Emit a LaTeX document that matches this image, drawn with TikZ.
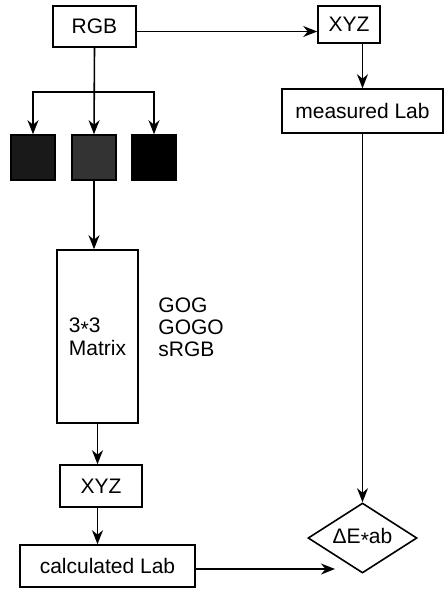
\documentclass[tikz,border=0pt]{standalone}
\usepackage{fontspec}
\setmainfont{Liberation Sans}
\usetikzlibrary{arrows.meta,shapes.geometric}

\newcommand{\starsym}{\raisebox{-0.35ex}{*}}

\begin{document}
\begin{tikzpicture}[x=0.5pt, y=-0.5pt, >={Stealth[length=7pt,width=5.5pt]}, line width=0.8pt,
    box/.style={draw, inner sep=0pt, font=\fontsize{10.5}{11.5}\selectfont},
    patch/.style={draw, inner sep=0pt, minimum width=22pt, minimum height=22.5pt}]
    \useasboundingbox (0,0) rectangle (444,589);

    % Left column: input, primaries, model
    \node[box, minimum width=41.5pt, minimum height=20.5pt] (rgb) at (94.5,26.5) {RGB};
    \node[patch, fill=black!90] (pr) at (33,157.5) {};
    \node[patch, fill=black!80] (pg) at (94,157.5) {};
    \node[patch, fill=black] (pb) at (154,157.5) {};
    \node[box, minimum width=40.5pt, minimum height=86.5pt, align=left] (mat) at (97.5,336.5)
        {3\starsym3\\Matrix};
    \node[anchor=west, align=left, font=\fontsize{10.5}{10.9}\selectfont] (models) at (151,327)
        {GOG\\GOGO\\sRGB};
    \node[box, minimum width=41pt, minimum height=21pt] (xyzc) at (101,486) {XYZ};
    \node[box, minimum width=87.5pt, minimum height=21pt] (calc) at (107.5,566) {calculated Lab};

    % Right column: measurement and comparison
    \node[box, minimum width=31pt, minimum height=18.5pt] (xyzm) at (349,24.5) {XYZ};
    \node[box, minimum width=80.5pt, minimum height=22pt] (meas) at (362.5,111) {measured Lab};
    \node[box, shape=diamond, aspect=1.56, minimum width=54.5pt, minimum height=35pt] (de)
        at (362.5,538) {ΔE\starsym ab};

    % Split of RGB into the three primaries
    \coordinate (split) at (94,92);
    \draw[->] (rgb.south) -- (pg.north);
    \draw[->] (split) -| (pr.north);
    \draw[->] (split) -| (pb.north);

    % Connectors
    \draw[->] ([yshift=-2.5pt]rgb.east) -- ([yshift=-2.5pt]rgb.east -| xyzm.west);
    \draw[->] (xyzm.south -| meas.north) -- (meas.north);
    \draw[->] (pg.south) -- (pg.south |- mat.north);
    \draw[->] (mat.south) -- (mat.south |- xyzc.north);
    \draw[->] (mat.south |- xyzc.south) -- (mat.south |- calc.north);
    \draw[->] (meas.south) -- (de.north);
    \coordinate (detip) at (335,569);
    \draw[->] (calc.east |- detip) -- (detip);
\end{tikzpicture}
\end{document}
